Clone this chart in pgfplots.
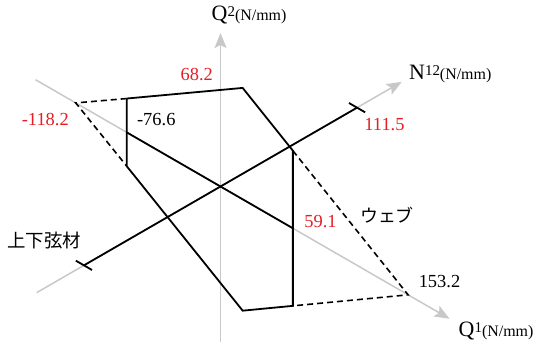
\documentclass[border=0pt]{standalone}
\usepackage{pgfplots}
\pgfplotsset{compat=1.18}
\usepackage{fontspec}
\setmainfont{Liberation Serif}
\newfontfamily\jp{Noto Sans CJK JP}
\usetikzlibrary{arrows.meta}
\definecolor{axisgray}{RGB}{200,200,200}
\definecolor{valred}{RGB}{230,30,36}

\newcommand{\vlab}[1]{\fontsize{18.5}{20}\selectfont #1}
\newcommand{\axlab}[2]{{\fontsize{22}{24}\selectfont #1}\raisebox{4bp}{\fontsize{15}{16}\selectfont #2}{\fontsize{16}{18}\selectfont(N/mm)}}

\begin{document}
\begin{tikzpicture}
% isometric view: x = Q1, y = N12, z = Q2
\begin{axis}[
  x={(1.2247bp,-0.7071bp)},
  y={(1.2247bp,0.7071bp)},
  z={(0bp,1.633bp)},
  hide axis, clip=false,
]
% coordinate axes
\addplot3[axisgray, line width=1.5bp, -{Stealth[length=15bp,width=12bp,inset=3bp]}]
  coordinates {(-151,0,0) (187,0,0)};
\addplot3[axisgray, line width=1.5bp, -{Stealth[length=15bp,width=12bp,inset=3bp]}]
  coordinates {(0,0,-95.2) (0,0,94)};
\addplot3[axisgray, line width=1.5bp, -{Stealth[length=15bp,width=12bp,inset=3bp]}]
  coordinates {(0,-150,0) (0,148,0)};

% chord members: axial force range on N12
\addplot3[black, line width=1.8bp] coordinates {(0,-111.5,0) (0,111.5,0)};
\addplot3[black, line width=1.8bp] coordinates {(-6.6,111.5,0) (6.6,111.5,0)};
\addplot3[black, line width=1.8bp] coordinates {(-6.6,-111.5,0) (6.6,-111.5,0)};

% chord members: shear range on Q1
\addplot3[black, line width=1.8bp] coordinates {(-76.6,0,0) (59.1,0,0)};

% chord members: Q1-Q2 envelope
\addplot3[black, line width=1.8bp, line join=miter] coordinates {
  (-76.6,0,20.7) (18.1,0,68.2) (59.1,0,47.5) (59.1,0,-47.5)
  (18.1,0,-68.2) (-76.6,0,-20.7) (-76.6,0,20.7)};

% web: dashed extension of the envelope
\addplot3[black, line width=1.6bp, dash pattern=on 6bp off 4bp]
  coordinates {(-76.6,0,20.7) (-118.2,0,0) (-76.6,0,-20.7)};
\addplot3[black, line width=1.6bp, dash pattern=on 6bp off 4bp]
  coordinates {(59.1,0,47.5) (153.2,0,0) (59.1,0,-47.5)};

\coordinate (O) at (axis cs:0,0,0);
\end{axis}
\pgfresetboundingbox
\begin{scope}[shift={(O)}, x=1bp, y=-1bp, shift={(-220.5,-186.5)}]
\useasboundingbox (0,0) rectangle (534,349);
\node[inner sep=0, text=valred] at (196.7,75) {\vlab{68.2}};
\node[inner sep=0, text=valred] at (45.3,120) {\vlab{-118.2}};
\node[inner sep=0] at (156.3,120) {\vlab{-76.6}};
\node[inner sep=0, text=valred] at (384.5,125) {\vlab{111.5}};
\node[inner sep=0, text=valred] at (320.5,222) {\vlab{59.1}};
\node[inner sep=0] at (439.5,282) {\vlab{153.2}};
\node[inner sep=0] at (387,215.5) {\jp\fontsize{18}{20}\selectfont ウェブ};
\node[inner sep=0] at (44,240.5) {\jp\fontsize{18.5}{20}\selectfont 上下弦材};
\node[inner sep=0, anchor=base west] at (211.5,20.6) {\axlab{Q}{2}};
\node[inner sep=0, anchor=base west] at (409,80) {\axlab{N}{12}};
\node[inner sep=0, anchor=base west] at (458.5,336.5) {\axlab{Q}{1}};
\end{scope}
\end{tikzpicture}
\end{document}
